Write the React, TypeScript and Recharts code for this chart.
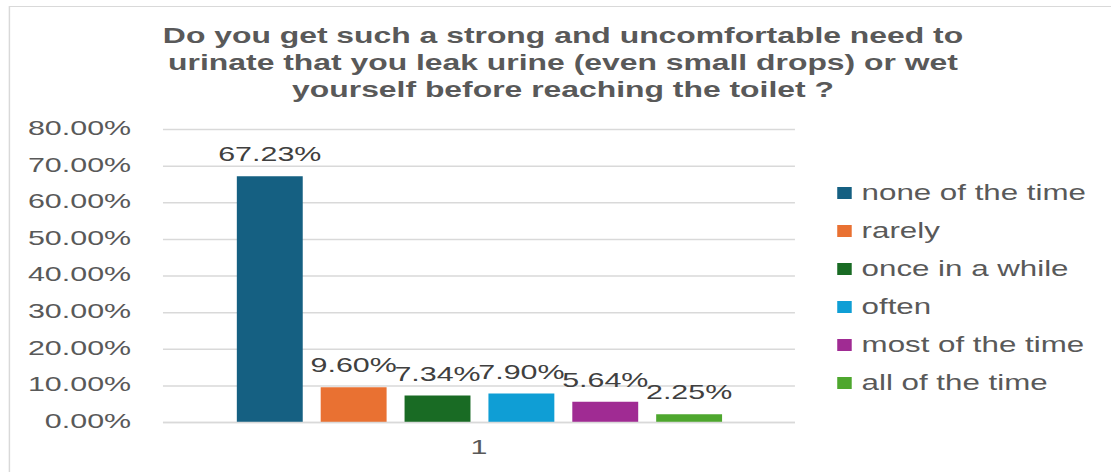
import {
  Bar,
  BarChart,
  CartesianGrid,
  LabelList,
  Legend,
  XAxis,
  YAxis,
} from "recharts";

const categories = ["1"];
const seriesNames = [
  "none of the time",
  "rarely",
  "once in a while",
  "often",
  "most of the time",
  "all of the time",
];
const seriesValues = [0.6723, 0.096, 0.0734, 0.079, 0.0564, 0.0225];
const seriesColors = ["#156082", "#E97132", "#196B24", "#0F9ED5", "#A02B93", "#4EA72E"];
const yTicks = [0, 0.1, 0.2, 0.3, 0.4, 0.5, 0.6, 0.7, 0.8];
const titleLines = [
  "Do you get such a strong and uncomfortable need to",
  "urinate that you leak urine (even small drops) or wet",
  "yourself before reaching the toilet ?",
];

// the source picture is stretched sideways, so the chart is drawn narrow and scaled
const SCALE_X = 1111 / 767;
const FONT = '"Liberation Sans", Arial, sans-serif';

const data = categories.map((name) => {
  const row: Record<string, string | number> = { name };
  seriesValues.forEach((v, i) => {
    row[`s${i}`] = v;
  });
  return row;
});

const pct = (v: number) => `${(v * 100).toFixed(2)}%`;

// zero width so the legend does not push the plot area (its box is measured after scaling)
function LegendList() {
  return (
    <div style={{ width: 0, overflow: "visible" }}>
      <div style={{ paddingLeft: 29.5, width: 240 }}>
        {seriesNames.map((name, i) => (
          <div
            key={name}
            style={{ display: "flex", alignItems: "center", height: 38, whiteSpace: "nowrap" }}
          >
            <span
              style={{
                display: "inline-block",
                width: 10,
                height: 12,
                background: seriesColors[i],
                marginRight: 6.5,
              }}
            />
            <span style={{ fontSize: 21.6, color: "#595959", fontFamily: FONT }}>{name}</span>
          </div>
        ))}
      </div>
    </div>
  );
}

export default function App() {
  return (
    <div
      style={{
        position: "absolute",
        left: 0,
        top: 0,
        width: 1111,
        height: 472,
        overflow: "hidden",
        background: "#fff",
        fontFamily: FONT,
      }}
    >
      <div
        style={{
          position: "relative",
          width: 767,
          height: 472,
          transform: `scaleX(${SCALE_X})`,
          transformOrigin: "0 0",
        }}
      >
        <div
          style={{
            position: "absolute",
            left: 6.2,
            top: 6,
            width: 800,
            height: 500,
            border: "1.5px solid #d9d9d9",
          }}
        />
        <div
          style={{
            position: "absolute",
            left: 88.7,
            top: 22,
            width: 600,
            textAlign: "center",
            fontWeight: "bold",
            fontSize: 22,
            lineHeight: "27px",
            color: "#595959",
          }}
        >
          {titleLines.map((line) => (
            <div key={line}>{line}</div>
          ))}
        </div>
        <div style={{ position: "absolute", left: 0, top: 0 }}>
          <BarChart
            width={767}
            height={472}
            data={data}
            margin={{ top: 129.5, right: 218.2, bottom: 9.5, left: 12.5 }}
            barSize={45.5}
            barGap={12.4}
          >
            <CartesianGrid vertical={false} stroke="#d9d9d9" strokeWidth={1.5} />
            <XAxis
              dataKey="name"
              height={40}
              tickLine={false}
              tickSize={0}
              tickMargin={17}
              axisLine={{ stroke: "#d9d9d9", strokeWidth: 1.5 }}
              tick={{ fontSize: 21, fill: "#595959", fontFamily: FONT }}
            />
            <YAxis
              width={100}
              domain={[0, 0.8]}
              ticks={yTicks}
              tickFormatter={pct}
              axisLine={false}
              tickLine={false}
              tickSize={0}
              tickMargin={22}
              tick={{ fontSize: 21, fill: "#595959", fontFamily: FONT, dy: -2 }}
            />
            <Legend
              layout="vertical"
              align="right"
              verticalAlign="middle"
              wrapperStyle={{ top: 174 }}
              content={<LegendList />}
            />
            {seriesNames.map((name, i) => (
              <Bar
                key={name}
                dataKey={`s${i}`}
                name={name}
                fill={seriesColors[i]}
                isAnimationActive={false}
              >
                <LabelList
                  dataKey={`s${i}`}
                  position="top"
                  offset={15}
                  formatter={(v: any) => pct(Number(v))}
                  style={{ fontSize: 21, fill: "#404040", fontFamily: FONT }}
                />
              </Bar>
            ))}
          </BarChart>
        </div>
      </div>
    </div>
  );
}
